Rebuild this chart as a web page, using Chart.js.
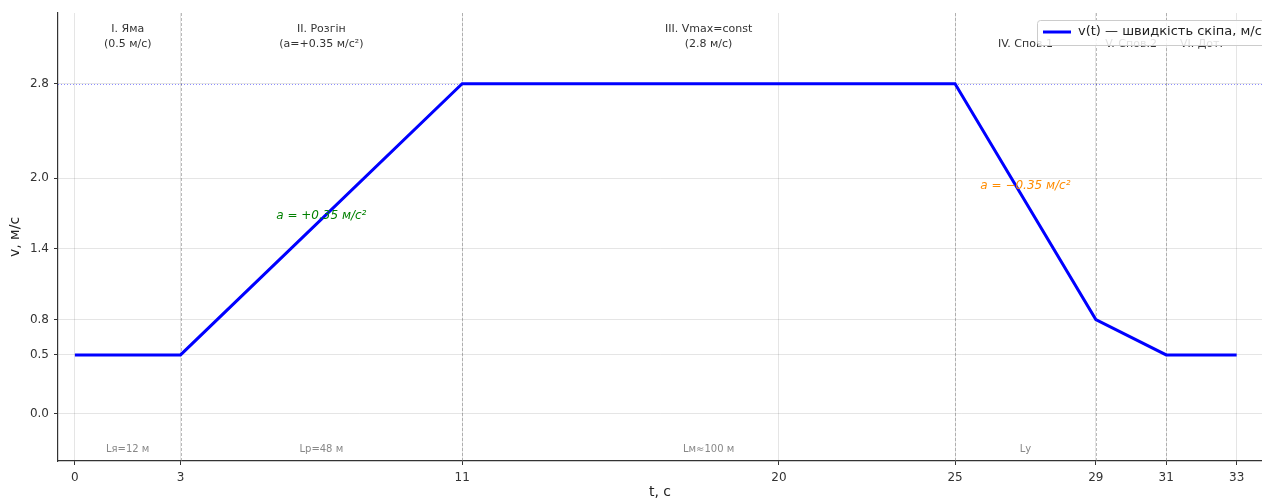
<!DOCTYPE html>
<html lang="uk">
<head>
    <meta charset="UTF-8">
    <title>Швидкість скіпа</title>
    <script src="https://cdn.jsdelivr.net/npm/chart.js"></script>
    <style>
        html, body { margin: 0; padding: 0; background: #fff; }
        .wrap { width: 1262px; height: 502px; position: relative; }
    </style>
</head>
<body>
<div class="wrap"><canvas id="speedChart"></canvas></div>
<script>
    // Дані діаграми швидкості
    const timePoints = [0, 3, 11, 25, 29, 31, 33];
    const speedValues = [0.5, 0.5, 2.8, 2.8, 0.8, 0.5, 0.5];
    const xTicks = [0, 3, 11, 20, 25, 29, 31, 33];
    const yTicks = [0.0, 0.5, 0.8, 1.4, 2.0, 2.8];
    const phaseBounds = [3, 11, 25, 29, 31];
    const vMax = 2.8;

    const phaseTitles = [
        ['I. Яма', '(0.5 м/с)'],
        ['II. Розгін', '(a=+0.35 м/с²)'],
        ['III. Vmax=const', '(2.8 м/с)'],
        ['IV. Спов.1'],
        ['V. Спов.2'],
        ['VI. Дот.']
    ];
    const phaseCenters = [1.5, 7, 18, 27, 30, 32];
    const pathLabels = ['Lя=12 м', 'Lр=48 м', 'Lм≈100 м', 'Lу'];
    const pathCenters = [1.5, 7, 18, 27];

    const accelLabels = [
        { text: 'a = +0.35 м/с²', t: 7, v: 1.68, color: 'green' },
        { text: 'a = −0.35 м/с²', t: 27, v: 1.93, color: 'darkorange' }
    ];
    const legendText = 'v(t) — швидкість скіпа, м/с';

    const FONT = '"DejaVu Sans", sans-serif';

    // Малюємо пунктирні межі фаз, підписи та легенду
    const decorPlugin = {
        id: 'decor',
        beforeDatasetsDraw(chart) {
            const { ctx, chartArea: a, scales: { x, y } } = chart;
            ctx.save();
            ctx.strokeStyle = 'rgba(130,130,130,0.55)';
            ctx.lineWidth = 1;
            ctx.setLineDash([3, 2]);
            phaseBounds.forEach(t => {
                const px = Math.round(x.getPixelForValue(t)) + 0.5;
                ctx.beginPath();
                ctx.moveTo(px, a.top);
                ctx.lineTo(px, a.bottom);
                ctx.stroke();
            });
            ctx.strokeStyle = 'rgba(0,0,255,0.45)';
            ctx.setLineDash([1, 2]);
            const py = Math.round(y.getPixelForValue(vMax)) + 0.5;
            ctx.beginPath();
            ctx.moveTo(a.left, py);
            ctx.lineTo(a.right, py);
            ctx.stroke();
            ctx.restore();
        },
        afterDatasetsDraw(chart) {
            const { ctx, scales: { x, y } } = chart;
            ctx.save();
            ctx.textAlign = 'center';
            ctx.textBaseline = 'middle';

            ctx.font = '11px ' + FONT;
            ctx.fillStyle = '#333';
            phaseTitles.forEach((lines, i) => {
                const px = x.getPixelForValue(phaseCenters[i]);
                if (lines.length === 2) {
                    ctx.fillText(lines[0], px, y.getPixelForValue(3.26));
                    ctx.fillText(lines[1], px, y.getPixelForValue(3.14));
                } else {
                    ctx.fillText(lines[0], px, y.getPixelForValue(3.14));
                }
            });

            ctx.font = '10px ' + FONT;
            ctx.fillStyle = '#888';
            pathLabels.forEach((s, i) => {
                ctx.fillText(s, x.getPixelForValue(pathCenters[i]), y.getPixelForValue(-0.3));
            });

            ctx.font = 'italic 12px ' + FONT;
            accelLabels.forEach(l => {
                ctx.fillStyle = l.color;
                ctx.fillText(l.text, x.getPixelForValue(l.t), y.getPixelForValue(l.v));
            });

            // легенда у правому верхньому куті
            const bx = 1037, by = 20, bw = 240, bh = 25;
            ctx.fillStyle = 'rgba(255,255,255,0.85)';
            ctx.strokeStyle = '#ccc';
            ctx.lineWidth = 1;
            ctx.beginPath();
            ctx.roundRect(bx + 0.5, by + 0.5, bw, bh, 3);
            ctx.fill();
            ctx.stroke();
            ctx.strokeStyle = 'blue';
            ctx.lineWidth = 3;
            ctx.beginPath();
            ctx.moveTo(bx + 6, by + 12);
            ctx.lineTo(bx + 34, by + 12);
            ctx.stroke();
            ctx.fillStyle = '#222';
            ctx.font = '13px ' + FONT;
            ctx.textAlign = 'left';
            ctx.fillText(legendText, bx + 41, by + 12);
            ctx.restore();
        }
    };

    const ctx = document.getElementById('speedChart').getContext('2d');
    new Chart(ctx, {
        type: 'line',
        data: {
            datasets: [{
                label: legendText,
                data: timePoints.map((t, i) => ({ x: t, y: speedValues[i] })),
                borderColor: 'blue',
                borderWidth: 3,
                pointRadius: 0,
                fill: false,
                tension: 0
            }]
        },
        options: {
            responsive: true,
            maintainAspectRatio: false,
            animation: false,
            layout: { padding: { top: 13, right: 0, left: 0, bottom: 0 } },
            plugins: {
                legend: { display: false },
                tooltip: { enabled: false }
            },
            scales: {
                x: {
                    type: 'linear',
                    min: -0.48,
                    max: 33.72,
                    afterBuildTicks: s => { s.ticks = xTicks.map(v => ({ value: v })); },
                    afterFit: s => { s.height = 41; },
                    ticks: {
                        color: '#333',
                        font: { family: FONT, size: 12 },
                        padding: 6,
                        autoSkip: false,
                        maxRotation: 0,
                        callback: v => String(v)
                    },
                    grid: {
                        color: 'rgba(0,0,0,0.1)',
                        tickColor: '#333',
                        tickLength: 4
                    },
                    border: { color: '#333', width: 1.2 },
                    title: {
                        display: true,
                        text: 't, с',
                        color: '#222',
                        font: { family: FONT, size: 14 },
                        padding: { top: 0, bottom: 1 }
                    }
                },
                y: {
                    min: -0.4,
                    max: 3.4,
                    afterBuildTicks: s => { s.ticks = yTicks.map(v => ({ value: v })); },
                    afterFit: s => { s.width = 58; },
                    ticks: {
                        color: '#333',
                        font: { family: FONT, size: 12 },
                        padding: 5,
                        autoSkip: false,
                        callback: v => Number(v).toFixed(1)
                    },
                    grid: {
                        color: 'rgba(0,0,0,0.1)',
                        tickColor: '#333',
                        tickLength: 4
                    },
                    border: { color: '#333', width: 1.2 },
                    title: {
                        display: true,
                        text: 'v, м/с',
                        color: '#222',
                        font: { family: FONT, size: 14 },
                        padding: { top: 7, bottom: 0 }
                    }
                }
            }
        },
        plugins: [decorPlugin]
    });
</script>
</body>
</html>
